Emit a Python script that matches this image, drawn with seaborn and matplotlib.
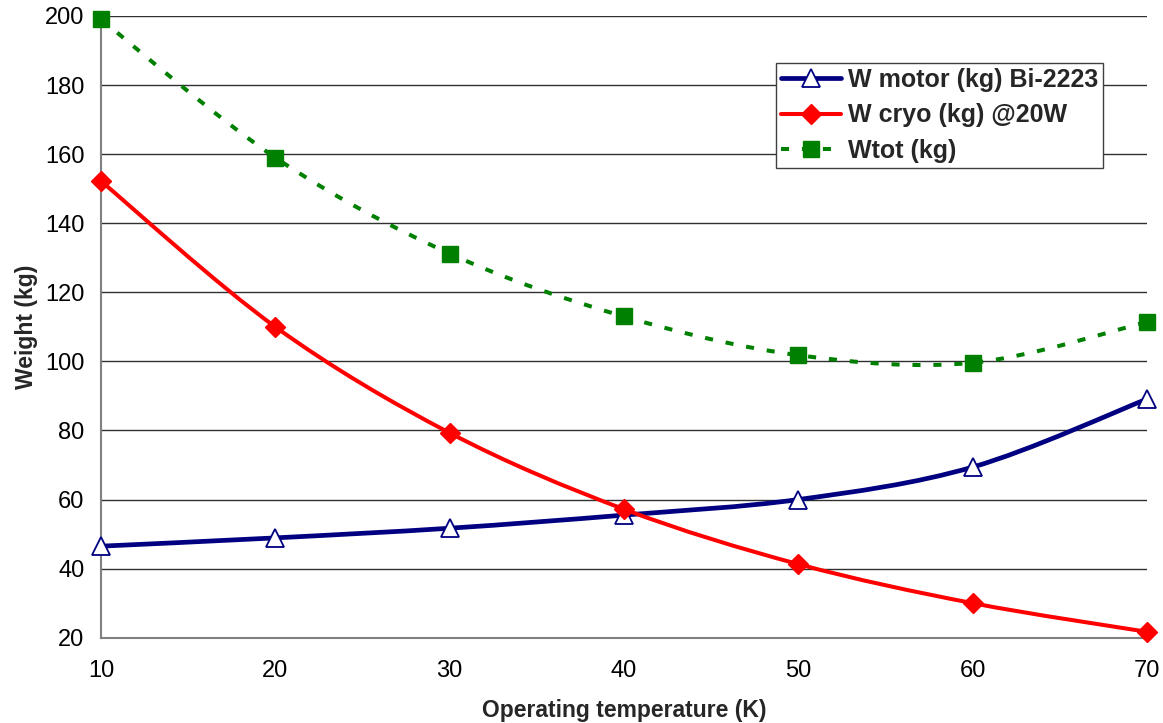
import numpy as np
import matplotlib
matplotlib.use("Agg")
import matplotlib.pyplot as plt
from matplotlib.path import Path
from matplotlib.patches import PathPatch
from matplotlib.lines import Line2D
import seaborn as sns
import pandas as pd

# ---- data ----
temperature = [10, 20, 30, 40, 50, 60, 70]
w_motor = [46.5, 48.9, 51.7, 55.5, 60.0, 69.4, 89.1]
w_cryo = [152.2, 110.0, 79.3, 57.2, 41.3, 30.0, 21.7]
w_tot = [199.0, 159.0, 131.2, 113.0, 101.8, 99.6, 111.4]
series_names = ["W motor (kg) Bi-2223", "W cryo (kg) @20W", "Wtot (kg)"]
x_ticks = [10, 20, 30, 40, 50, 60, 70]
y_ticks = [20, 40, 60, 80, 100, 120, 140, 160, 180, 200]

sns.set_style("white")
plt.rcParams['font.family'] = ['Liberation Sans', 'DejaVu Sans']

fig = plt.figure(figsize=(11.63, 7.23), dpi=100)
ax = fig.add_axes([101/1163, (723-637.7)/723, 1046/1163, 621.7/723])

df = pd.DataFrame({"T": temperature, "motor": w_motor, "cryo": w_cryo, "tot": w_tot})


def smooth_path(xs, ys):
    """Excel-style smoothed line as cubic Bezier path through the data points."""
    pts = np.column_stack([xs, ys]).astype(float)
    n = len(pts)
    verts = [pts[0]]
    codes = [Path.MOVETO]
    for i in range(n - 1):
        p0 = pts[i - 1] if i > 0 else pts[i]
        p1 = pts[i]
        p2 = pts[i + 1]
        p3 = pts[i + 2] if i + 2 < n else pts[i + 1]
        c1 = p1 + (p2 - p0) / 6.0
        c2 = p2 - (p3 - p1) / 6.0
        verts += [c1, c2, p2]
        codes += [Path.CURVE4] * 3
    return Path(verts, codes)


styles = [
    dict(col="motor", color="#000080", lw=3.4, ls="-", marker="^", ms=13, mfc="white", mec="#000080", mew=1.3),
    dict(col="cryo", color="#FF0000", lw=2.9, ls="-", marker="D", ms=10.5, mfc="#FF0000", mec="#FF0000", mew=1.0),
    dict(col="tot", color="#008000", lw=2.9, ls=(0, (2.0, 3.2)), marker="s", ms=11, mfc="#008000", mec="#008000", mew=1.0),
]

handles = []
for st, name in zip(styles, series_names):
    patch = PathPatch(smooth_path(df["T"], df[st["col"]]), facecolor="none",
                      edgecolor=st["color"], lw=st["lw"], linestyle=st["ls"],
                      capstyle="butt", zorder=3, clip_on=False)
    ax.add_patch(patch)
    sns.lineplot(data=df, x="T", y=st["col"], ax=ax, linestyle="none",
                 marker=st["marker"], markersize=st["ms"],
                 markerfacecolor=st["mfc"], markeredgecolor=st["mec"],
                 markeredgewidth=st["mew"], color=st["color"], zorder=4,
                 clip_on=False, legend=False)
    handles.append(Line2D([], [], color=st["color"], lw=st["lw"], linestyle=st["ls"],
                          marker=st["marker"], markersize=st["ms"],
                          markerfacecolor=st["mfc"], markeredgecolor=st["mec"],
                          markeredgewidth=st["mew"]))

ax.set_xlim(10, 70)
ax.set_ylim(20, 200)
ax.set_xticks(x_ticks)
ax.set_yticks(y_ticks)
ax.yaxis.grid(True, color="#303030", lw=1.0)
ax.xaxis.grid(False)
ax.set_axisbelow(True)
for s in ["top", "right"]:
    ax.spines[s].set_visible(False)
for s in ["left", "bottom"]:
    ax.spines[s].set_color("#808080")
    ax.spines[s].set_linewidth(1.5)
ax.tick_params(axis="both", which="major", labelsize=17, colors="#808080",
               labelcolor="black", length=5, width=1.2, direction="out")
ax.tick_params(axis="x", pad=11)
ax.tick_params(axis="y", pad=7)
ax.set_xlabel("Operating temperature (K)", fontsize=16.5, fontweight="bold", labelpad=12)
ax.set_ylabel("Weight (kg)", fontsize=16.5, fontweight="bold", labelpad=5)

leg = ax.legend(handles, series_names, loc="upper left", bbox_to_anchor=(0.645, 0.924),
                borderaxespad=0, frameon=True, fancybox=False, framealpha=1,
                edgecolor="#404040", prop={"size": 18, "weight": "bold"},
                handlelength=2.4, handletextpad=0.3, labelspacing=0.45,
                borderpad=0.2)
leg.get_frame().set_linewidth(1.0)

fig.savefig("out.png", dpi=100)
